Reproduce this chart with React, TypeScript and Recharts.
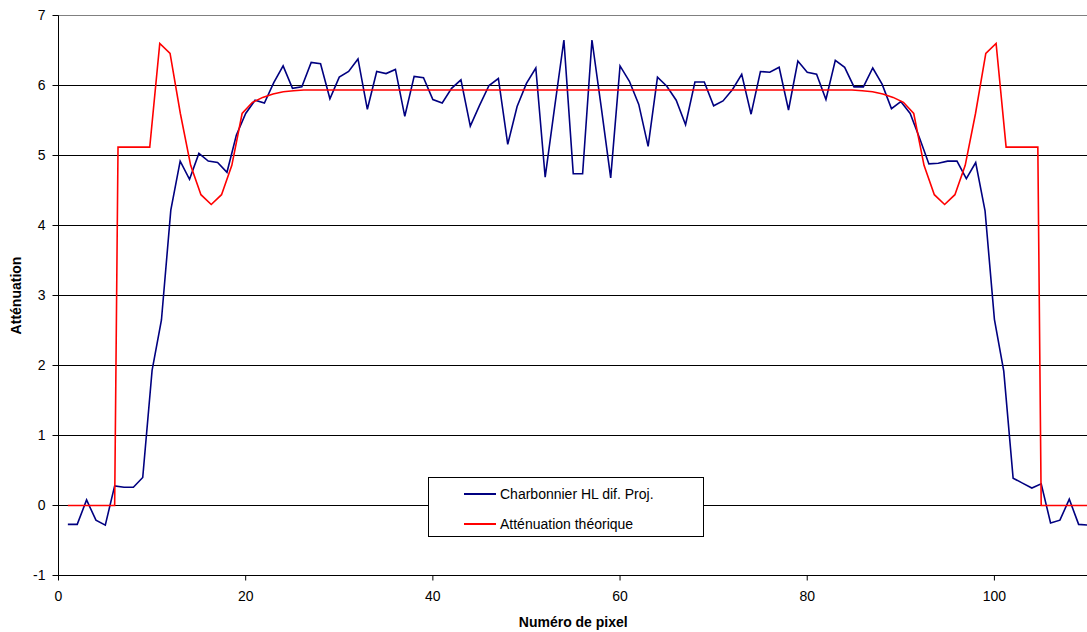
import {
  LineChart,
  Line,
  XAxis,
  YAxis,
  CartesianGrid,
  Legend,
  ReferenceLine,
} from "recharts";

// Charbonnier HL dif. Proj. — one value per pixel, pixels 1..110
const blueValues = [
  -0.27, -0.27, 0.08, -0.21, -0.28, 0.28, 0.26, 0.26, 0.4, 1.93,
  2.65, 4.22, 4.92, 4.66, 5.03, 4.92, 4.9, 4.76, 5.29, 5.6,
  5.79, 5.75, 6.04, 6.28, 5.96, 5.98, 6.33, 6.31, 5.81, 6.12,
  6.2, 6.38, 5.66, 6.2, 6.17, 6.23, 5.56, 6.13, 6.11, 5.8,
  5.75, 5.96, 6.08, 5.42, 5.72, 6.0, 6.1, 5.16, 5.7, 6.03,
  6.25, 4.69, 5.68, 6.65, 4.74, 4.74, 6.65, 5.68, 4.68, 6.28,
  6.06, 5.73, 5.13, 6.12, 5.99, 5.79, 5.44, 6.05, 6.05, 5.71,
  5.78, 5.94, 6.16, 5.59, 6.2, 6.19, 6.26, 5.65, 6.35, 6.19,
  6.16, 5.8, 6.36, 6.26, 5.98, 5.98, 6.25, 6.02, 5.67, 5.77,
  5.6, 5.25, 4.88, 4.89, 4.92, 4.92, 4.67, 4.9, 4.21, 2.66,
  1.92, 0.39, 0.32, 0.25, 0.31, -0.25, -0.21, 0.09, -0.27, -0.28,
];

// Atténuation théorique — sampled on its own x grid
const redX = [
  1, 6.0, 6.36, 9.75, 10.82, 11.92, 13.02, 14.12, 15.22, 16.32, 17.42, 18.52,
  19.62, 20.72, 21.82, 22.92, 24.02, 25.12, 26.22, 84.78, 85.88, 86.98, 88.08,
  89.18, 90.28, 91.38, 92.48, 93.58, 94.68, 95.78, 96.88, 97.98, 99.08, 100.18,
  101.25, 104.64, 105.0, 110,
];
const redY = [
  0, 0, 5.12, 5.12, 6.6, 6.46, 5.6, 4.86, 4.44, 4.3, 4.44, 4.86,
  5.6, 5.76, 5.83, 5.88, 5.91, 5.925, 5.935, 5.935, 5.925, 5.91, 5.88,
  5.83, 5.76, 5.6, 4.86, 4.44, 4.3, 4.44, 4.86, 5.6, 6.46, 6.6,
  5.12, 5.12, 0, 0,
];

const xTicks = [0, 20, 40, 60, 80, 100];
const yTicks = [-1, 0, 1, 2, 3, 4, 5, 6, 7];

const BLUE = "#000080";
const RED = "#ff0000";
const FONT = '"Liberation Sans", Arial, sans-serif';

const blueData = blueValues.map((y, i) => ({ x: i + 1, y }));
const redData = redX.map((x, i) => ({ x, y: redY[i] }));

function LegendBox() {
  const rows = [
    { label: "Charbonnier HL dif. Proj.", color: BLUE },
    { label: "Atténuation théorique", color: RED },
  ];
  return (
    <div
      style={{
        width: 276,
        height: 60,
        boxSizing: "border-box",
        border: "1px solid #000",
        background: "#fff",
        fontFamily: FONT,
        fontSize: 14,
        color: "#000",
        position: "relative",
      }}
    >
      {rows.map((r, i) => (
        <div
          key={r.label}
          style={{
            position: "absolute",
            left: 35,
            top: 6 + i * 30,
            height: 20,
            display: "flex",
            alignItems: "center",
            whiteSpace: "nowrap",
          }}
        >
          <span
            style={{
              display: "inline-block",
              width: 32,
              height: 2,
              background: r.color,
              marginRight: 4,
            }}
          />
          {r.label}
        </div>
      ))}
    </div>
  );
}

export default function App() {
  return (
    <div
      style={{
        position: "absolute",
        left: 0,
        top: 0,
        width: 1087,
        height: 632,
        overflow: "hidden",
        background: "#fff",
      }}
    >
      <LineChart
        width={1090}
        height={632}
        margin={{ top: 15.5, right: 2, bottom: 0, left: 0 }}
      >
        <CartesianGrid vertical={false} stroke="#000" />
        <XAxis
          type="number"
          dataKey="x"
          domain={[0, 110]}
          ticks={xTicks}
          allowDataOverflow
          height={56.5}
          tickSize={5}
          tickMargin={11}
          axisLine={{ stroke: "#000" }}
          tickLine={{ stroke: "#000" }}
          tick={{ fill: "#000", fontSize: 14, fontFamily: FONT }}
          label={{
            value: "Numéro de pixel",
            position: "insideBottom",
            offset: 5,
            style: { fill: "#000", fontSize: 14, fontWeight: "bold", fontFamily: FONT },
          }}
        />
        <YAxis
          type="number"
          domain={[-1, 7]}
          ticks={yTicks}
          width={58.5}
          tickSize={6}
          tickMargin={7}
          axisLine={{ stroke: "#000" }}
          tickLine={{ stroke: "#000" }}
          tick={{ fill: "#000", fontSize: 14, fontFamily: FONT }}
          label={{
            value: "Atténuation",
            angle: -90,
            position: "insideLeft",
            offset: 16,
            style: {
              textAnchor: "middle",
              fill: "#000",
              fontSize: 14,
              fontWeight: "bold",
              fontFamily: FONT,
            },
          }}
        />
        <ReferenceLine y={7} stroke="#808080" />
        <Line
          data={blueData}
          dataKey="y"
          name="Charbonnier HL dif. Proj."
          type="linear"
          stroke={BLUE}
          strokeWidth={1.6}
          dot={false}
          isAnimationActive={false}
        />
        <Line
          data={redData}
          dataKey="y"
          name="Atténuation théorique"
          type="linear"
          stroke={RED}
          strokeWidth={1.6}
          dot={false}
          isAnimationActive={false}
        />
        <Legend
          layout="horizontal"
          verticalAlign="middle"
          align="center"
          wrapperStyle={{ left: 428, top: 477, width: 276, height: 60 }}
          content={() => <LegendBox />}
        />
      </LineChart>
    </div>
  );
}
